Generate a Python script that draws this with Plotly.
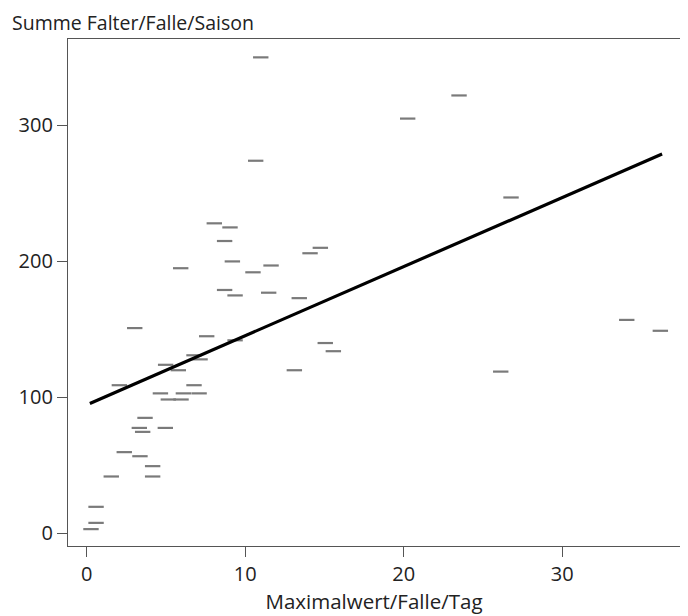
import plotly.graph_objects as go

# Maximalwert/Falle/Tag vs. Summe Falter/Falle/Saison
max_per_day = [10.98, 10.66, 8.05, 9.04, 8.7, 9.19, 5.93, 10.49, 11.63, 14.09, 14.74,
               8.7, 9.36, 11.48, 13.41, 3.03, 7.57, 9.36, 15.05, 15.56, 6.77, 7.15,
               4.98, 5.78, 13.1, 2.06, 6.77, 4.65, 6.1, 7.09, 5.15, 5.95, 3.68, 3.32,
               4.96, 3.53, 2.37, 3.36, 4.16, 4.16, 1.55, 0.59, 0.59, 0.27,
               23.49, 20.25, 26.77, 34.07, 36.19, 26.12]
season_sum = [350, 274, 228, 225, 215, 200, 195, 192, 197, 206, 210,
              179, 175, 177, 173, 151, 145, 142, 140, 134, 131, 128,
              124, 120, 120, 109, 109, 103, 103, 103, 98.5, 98.5, 85, 77.6,
              77.6, 74.7, 59.8, 56.8, 49.5, 41.9, 41.9, 19.6, 7.8, 3.2,
              322, 305, 247, 157, 149, 119]

# fitted line, ends
fit_x = [0.2, 36.3]
fit_y = [95.6, 279]

fnt = "Open Sans, Noto Sans, sans-serif"

fig = go.Figure()
fig.add_trace(go.Scatter(x=max_per_day, y=season_sum, mode="markers",
                         marker=dict(symbol="line-ew", size=11,
                                     line=dict(width=2.2, color="#7a7a7a")),
                         showlegend=False, cliponaxis=False))
fig.add_trace(go.Scatter(x=fit_x, y=fit_y, mode="lines",
                         line=dict(color="black", width=3.2),
                         showlegend=False))

# page body has an 8px margin, so the figure is 8px smaller each way
fig.update_layout(
    width=680, height=608,
    margin=dict(l=60, r=8, t=31, b=70),
    plot_bgcolor="white", paper_bgcolor="white",
    font=dict(family=fnt, size=20, color="#222"),
    annotations=[dict(text="Summe Falter/Falle/Saison", x=0, y=1,
                      xref="paper", yref="paper", xshift=-57, yshift=31,
                      xanchor="left", yanchor="top", showarrow=False,
                      borderpad=0,
                      font=dict(size=19.5, family=fnt, color="#222"))],
)
fig.update_xaxes(range=[-1.18, 37.43], tickvals=[0, 10, 20, 30],
                 ticks="outside", ticklen=10, tickcolor="#555",
                 showline=True, linecolor="#555", linewidth=1.2, mirror=True,
                 showgrid=False, zeroline=False,
                 title=dict(text="Maximalwert/Falle/Tag", standoff=6,
                            font=dict(size=20.5)))
fig.update_yaxes(range=[-9.2, 363.5], tickvals=[0, 100, 200, 300],
                 ticks="outside", ticklen=10, tickcolor="#555",
                 showline=True, linecolor="#555", linewidth=1.2, mirror=True,
                 showgrid=False, zeroline=False)

fig.write_html("out.html")
